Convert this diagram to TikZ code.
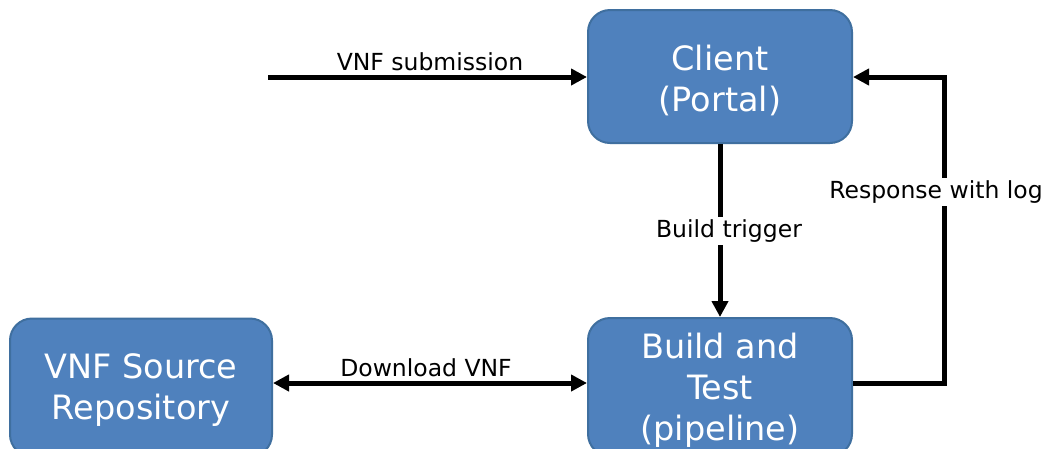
\documentclass[tikz,border=0pt]{standalone}
\usepackage{fontspec}
\setmainfont{DejaVu Sans}
\usetikzlibrary{arrows.meta,positioning}
\definecolor{boxfill}{HTML}{4F81BD}
\definecolor{boxline}{HTML}{3F6F9F}
\tikzset{
  blockbox/.style={draw=boxline, line width=2pt, fill=boxfill, rounded corners=22pt, inner sep=0pt},
  blocktext/.style={text=white, align=center, font=\fontsize{33.5}{41}\selectfont, inner sep=0pt},
  conn/.style={line width=5pt, -{Triangle[length=16pt,width=16pt]}},
  lbl/.style={font=\fontsize{23.5}{28}\selectfont, text=black, inner sep=3pt}
}
\begin{document}
\begin{tikzpicture}[x=1pt,y=-1pt]
\useasboundingbox[fill=white] (0,0) rectangle (1047,448);
\node[blockbox, minimum width=264pt, minimum height=133pt] (client) at (720,76.5) {};
\node[blocktext] (clientt) at (720,80) {Client\\(Portal)};
\node[blockbox, minimum width=264pt, minimum height=138pt] (build) at (720,387) {};
\node[blocktext] (buildt) at (720,390) {Build and\\Test\\(pipeline)};
\node[blockbox, minimum width=262pt, minimum height=138pt] (repo) at (141,387.5) {};
\node[blocktext] (repot) at (141,390.5) {VNF Source\\Repository};
\coordinate (src) at (268,77);
\coordinate (c1) at (944,383);
\coordinate (c2) at (944,77);
\draw[conn] (src) -- (src -| client.west);
\node[lbl] (lsub) at (430,62) {VNF submission};
\draw[conn] (client.south) -- (build.north);
\node[lbl, fill=white] (ltrig) at (729,231) {Build trigger};
\draw[conn] (build.east |- c1) -- (c1) -- (c2) -- (c2 -| client.east);
\node[lbl, fill=white] (lresp) at (936,192) {Response with log};
\draw[conn, {Triangle[length=16pt,width=16pt]}-{Triangle[length=16pt,width=16pt]}] (repo.east |- c1) -- (c1 -| build.west);
\node[lbl] (ldl) at (426,368) {Download VNF};
\end{tikzpicture}
\end{document}
